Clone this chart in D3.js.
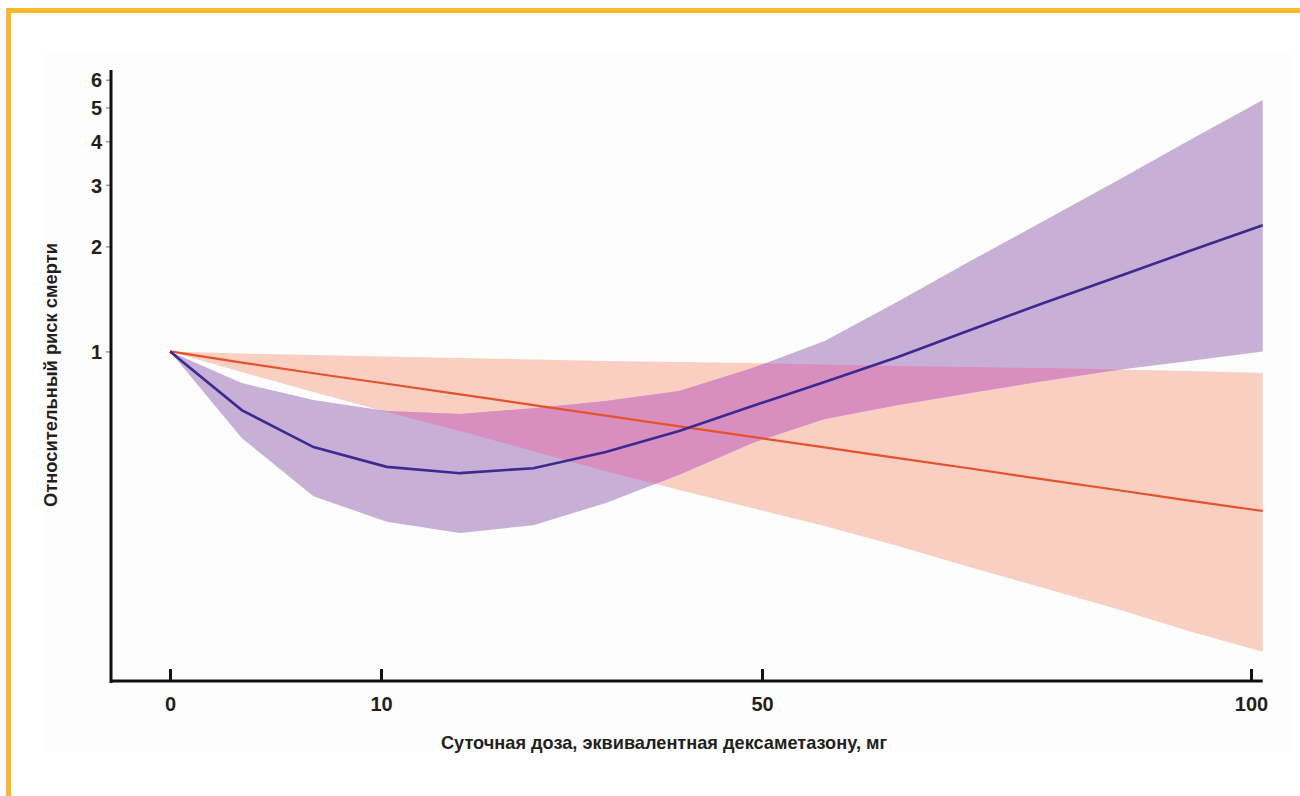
<!DOCTYPE html>
<html lang="ru">
<head>
<meta charset="utf-8">
<script src="https://cdn.jsdelivr.net/npm/d3@7"></script>
<style>
  html, body { margin: 0; padding: 0; background: #ffffff; }
  svg { display: block; }
  .lbl { font-family: "Liberation Sans Narrow", "Arial Narrow", "Liberation Sans", Arial, sans-serif; font-weight: bold; fill: #231f20; }
</style>
</head>
<body>
<svg id="chart" width="1300" height="796"></svg>
<script>
// Daily dose, dexamethasone equivalent (mg)
const dose = [0, 3.4, 6.8, 10.6, 18.3, 26.0, 33.6, 41.3, 49.0, 56.4, 63.9, 71.3, 78.8, 86.3, 93.7, 101.2];

// Relative risk of death – purple curve with its confidence band
const purpleRR    = [1.0, 0.679, 0.532, 0.467, 0.448, 0.463, 0.515, 0.592, 0.698, 0.817, 0.964, 1.152, 1.376, 1.633, 1.939, 2.30];
const purpleUpper = [1.0, 0.812, 0.726, 0.675, 0.662, 0.688, 0.721, 0.770, 0.896, 1.071, 1.390, 1.815, 2.363, 3.085, 4.024, 5.25];
const purpleLower = [1.0, 0.565, 0.385, 0.325, 0.302, 0.318, 0.368, 0.443, 0.547, 0.640, 0.702, 0.760, 0.823, 0.885, 0.939, 1.0];

// Relative risk of death – orange curve with its confidence band
const orangeRR    = [1.0, 0.929, 0.866, 0.808, 0.753, 0.702, 0.655, 0.610, 0.569, 0.531, 0.495, 0.462, 0.430, 0.401, 0.374, 0.349];
const orangeUpper = [1.0, 0.986, 0.976, 0.967, 0.957, 0.948, 0.939, 0.932, 0.926, 0.917, 0.908, 0.902, 0.896, 0.888, 0.879, 0.867];
const orangeLower = [1.0, 0.873, 0.765, 0.671, 0.592, 0.518, 0.454, 0.401, 0.356, 0.316, 0.277, 0.241, 0.210, 0.183, 0.158, 0.138];

// Axis ticks
const xTicks = [0, 10, 50, 100];
const yTicks = [1, 2, 3, 4, 5, 6];

const xTitle = "Суточная доза, эквивалентная дексаметазону, мг";
const yTitle = "Относительный риск смерти";

const svg = d3.select("#chart");

// Frame: accent strips on top and left, faint panel behind the plot
svg.append("rect").attr("x", 6).attr("y", 8).attr("width", 1294).attr("height", 5).attr("fill", "#fbb829");
svg.append("rect").attr("x", 6).attr("y", 8).attr("width", 5).attr("height", 788).attr("fill", "#fbb829");
svg.append("rect").attr("x", 43).attr("y", 53).attr("width", 1250).attr("height", 699).attr("fill", "#fdfdfd");

// Scales: stretched segment below 10 mg, log scale for the risk
const x = d3.scaleLinear().domain([0, 10, 50, 100]).range([170, 381, 762, 1251]);
const y = d3.scaleLog().domain([0.113, 6.4]).range([682, 70]);

const band = (lo, hi) => d3.area()
  .x((d, i) => x(dose[i]))
  .y0((d, i) => y(lo[i]))
  .y1((d, i) => y(hi[i]))
  .curve(d3.curveLinear);
const line = vals => d3.line()
  .x((d, i) => x(dose[i]))
  .y((d, i) => y(vals[i]))
  .curve(d3.curveLinear);

const purpleBand = band(purpleLower, purpleUpper)(dose);
const orangeBand = band(orangeLower, orangeUpper)(dose);

svg.append("defs").append("clipPath").attr("id", "purpleClip")
  .append("path").attr("d", purpleBand);

svg.append("path").attr("d", orangeBand).attr("fill", "#f8cfc0");
svg.append("path").attr("d", purpleBand).attr("fill", "#c8afd5");
// Overlap of the two confidence bands
svg.append("path").attr("d", orangeBand).attr("fill", "#d88fbf").attr("clip-path", "url(#purpleClip)");

svg.append("path").attr("d", line(orangeRR)(dose))
  .attr("fill", "none").attr("stroke", "#e5522b").attr("stroke-width", 2.2);
svg.append("path").attr("d", line(purpleRR)(dose))
  .attr("fill", "none").attr("stroke", "#3b2a8f").attr("stroke-width", 2.6);

// Y axis
const yAxis = svg.append("g").attr("transform", "translate(111,0)")
  .call(d3.axisLeft(y).tickValues(yTicks).tickFormat(d3.format("d")).tickSize(5).tickPadding(4));
yAxis.select(".domain").remove();
yAxis.selectAll(".tick line").attr("stroke", "#9a9a9a").attr("stroke-width", 1.5);
yAxis.selectAll(".tick text").attr("class", "lbl").attr("font-size", 20).attr("dy", "0.36em");
svg.append("line").attr("x1", 111).attr("x2", 111).attr("y1", y.range()[1]).attr("y2", 683)
  .attr("stroke", "#111").attr("stroke-width", 3);

// X axis
const xAxis = svg.append("g").attr("transform", "translate(0,681)")
  .call(d3.axisBottom(x).tickValues(xTicks).tickSizeInner(-12).tickSizeOuter(0).tickPadding(16));
xAxis.select(".domain").remove();
xAxis.selectAll(".tick line").attr("stroke", "#111").attr("stroke-width", 3);
xAxis.selectAll(".tick text").attr("class", "lbl").attr("font-size", 20);
svg.append("line").attr("x1", 110).attr("x2", x(101.2)).attr("y1", 681).attr("y2", 681)
  .attr("stroke", "#111").attr("stroke-width", 3);

// Axis titles
svg.append("text").attr("class", "lbl").attr("x", 664).attr("y", 749)
  .attr("text-anchor", "middle").attr("font-size", 19)
  .attr("textLength", 446).attr("lengthAdjust", "spacingAndGlyphs")
  .text(xTitle);
svg.append("text").attr("class", "lbl")
  .attr("transform", "translate(57,375) rotate(-90)")
  .attr("text-anchor", "middle").attr("font-size", 19)
  .attr("textLength", 264).attr("lengthAdjust", "spacingAndGlyphs")
  .text(yTitle);
</script>
</body>
</html>
